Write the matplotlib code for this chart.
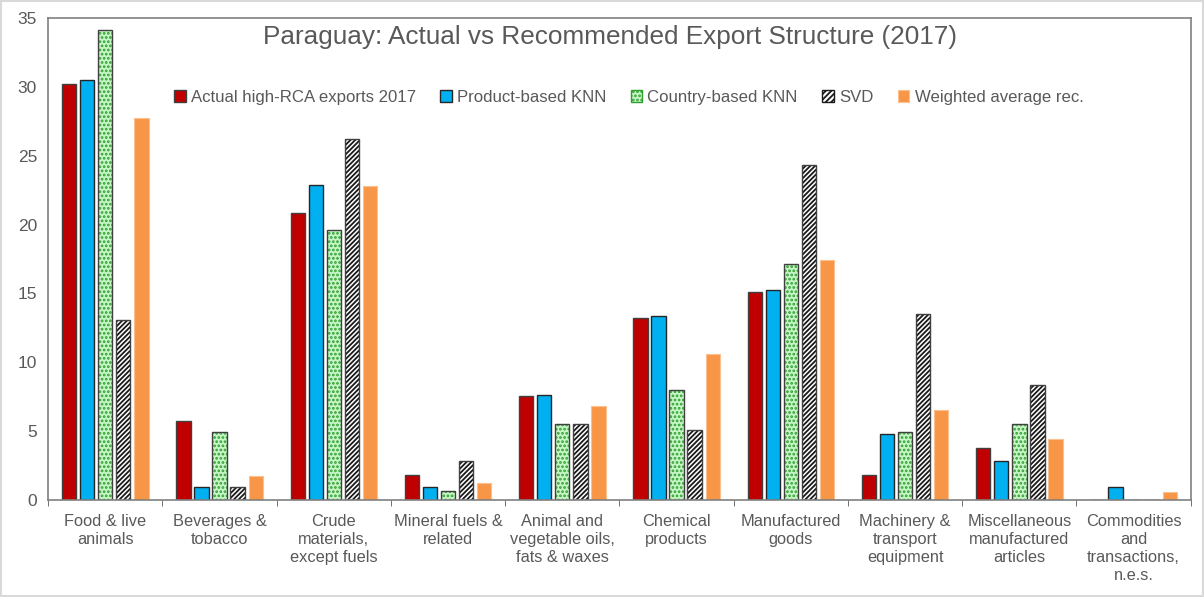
import numpy as np
import matplotlib.pyplot as plt
from matplotlib.patches import Rectangle, Patch

plt.rcParams['font.family'] = ['Liberation Sans', 'DejaVu Sans']
plt.rcParams['hatch.linewidth'] = 1.3

categories = [
    "Food & live\nanimals",
    "Beverages &\ntobacco",
    "Crude\nmaterials,\nexcept fuels",
    "Mineral fuels &\nrelated",
    "Animal and\nvegetable oils,\nfats & waxes",
    "Chemical\nproducts",
    "Manufactured\ngoods",
    "Machinery &\ntransport\nequipment",
    "Miscellaneous\nmanufactured\narticles",
    "Commodities\nand\ntransactions,\nn.e.s.",
]

actual = [30.2, 5.7, 20.8, 1.85, 7.55, 13.2, 15.1, 1.85, 3.75, 0.0]
product_knn = [30.5, 0.95, 22.9, 0.95, 7.6, 13.35, 15.25, 4.8, 2.85, 0.95]
country_knn = [34.1, 4.9, 19.6, 0.65, 5.5, 7.95, 17.1, 4.9, 5.5, 0.0]
svd = [13.1, 0.95, 26.2, 2.8, 5.55, 5.1, 24.3, 13.5, 8.35, 0.0]
weighted = [27.7, 1.75, 22.8, 1.2, 6.8, 10.6, 17.4, 6.5, 4.45, 0.55]

series_names = ["Actual high-RCA exports 2017", "Product-based KNN",
                "Country-based KNN", "SVD", "Weighted average rec."]

grey = '#595959'
fig = plt.figure(figsize=(12.04, 5.97), dpi=100)
fig.patches.append(Rectangle((0.001, 0.001), 0.998, 0.997, transform=fig.transFigure,
                             fill=False, edgecolor='#d9d9d9', linewidth=1.5))
ax = fig.add_axes([0.040, 0.1625, 0.949, 0.8075])

x = np.arange(len(categories))
slot = 0.158
width = 0.125
offsets = (np.arange(5) - 2) * slot

# actual exports
ax.bar(x + offsets[0], actual, width, color='#c00000', edgecolor='#404040', linewidth=1.0)
# product-based KNN
ax.bar(x + offsets[1], product_knn, width, color='#00b0f0', edgecolor='#262626', linewidth=1.0)
# country-based KNN: dotted green fill, hatch on its own layer under the outline
ax.bar(x + offsets[2], country_knn, width, color='#c6f5c6', edgecolor='#2e9e2e',
       hatch='....', linewidth=0)
ax.bar(x + offsets[2], country_knn, width, color='none', edgecolor='#404040', linewidth=1.0)
# SVD: black diagonal stripes on white
ax.bar(x + offsets[3], svd, width, color='white', edgecolor='#1a1a1a', hatch='///////', linewidth=0)
ax.bar(x + offsets[3], svd, width, color='none', edgecolor='#404040', linewidth=1.0)
# weighted average recommendation
ax.bar(x + offsets[4], weighted, width, color='#f79646', edgecolor='#fac090', linewidth=0.8)

handles = [
    Patch(facecolor='#c00000', edgecolor='#404040', linewidth=1.0),
    Patch(facecolor='#00b0f0', edgecolor='#262626', linewidth=1.0),
    Patch(facecolor='#c6f5c6', edgecolor='#2e9e2e', hatch='....', linewidth=1.0),
    Patch(facecolor='white', edgecolor='#1a1a1a', hatch='//////', linewidth=1.0),
    Patch(facecolor='#f79646', edgecolor='#fac090', linewidth=0.8),
]

ax.set_xlim(-0.5, len(categories) - 0.5)
ax.set_ylim(0, 35)
ax.set_yticks(range(0, 36, 5))
ax.tick_params(axis='y', length=0, labelsize=12.5, colors=grey, pad=8)
ax.set_xticks(x)
ax.set_xticklabels(categories, fontsize=11.8, color=grey, linespacing=1.25)
ax.tick_params(axis='x', length=0, pad=10)
ax.set_xticks(np.arange(len(categories) + 1) - 0.5, minor=True)
ax.tick_params(axis='x', which='minor', length=4, color=grey, direction='out')

for side in ['left', 'right', 'top', 'bottom']:
    ax.spines[side].set_color('#808080')
    ax.spines[side].set_linewidth(1.2)

ax.text(0.492, 0.985, "Paraguay: Actual vs Recommended Export Structure (2017)",
        transform=ax.transAxes, ha='center', va='top', fontsize=18.8, color=grey)

ax.legend(handles, series_names, loc='upper center', bbox_to_anchor=(0.508, 0.882),
          ncol=5, frameon=False, fontsize=12.1, handlelength=0.7, handleheight=0.7,
          handletextpad=0.3, columnspacing=1.45, labelcolor=grey)

fig.savefig('out.png', dpi=100)
